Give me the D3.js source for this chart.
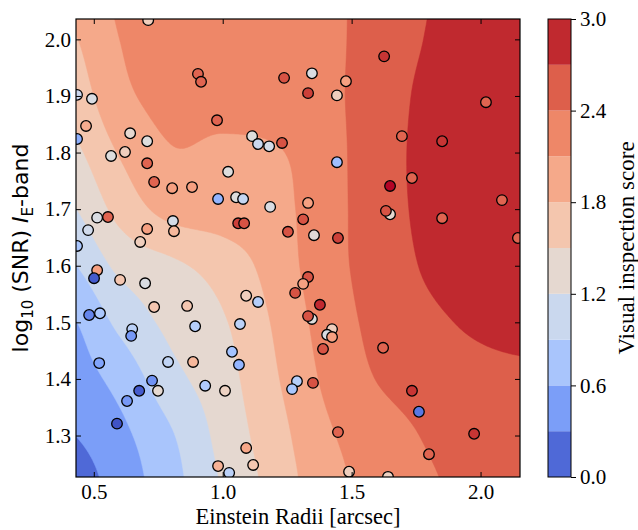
<!DOCTYPE html>
<html>
<head>
<meta charset="utf-8">
<script src="https://cdn.jsdelivr.net/npm/d3@7"></script>
<style>
  body { margin: 0; background: #fff; }
</style>
</head>
<body>
<div id="chart"></div>
<script>
// smoothed score surface on a coarse grid (rows go up in log SNR)
const gridX = [0.4, 0.6, 0.8, 1.0, 1.2, 1.4, 1.6, 1.8, 2.0, 2.2]
const gridY = [1.2, 1.3, 1.4, 1.5, 1.6, 1.7, 1.8, 1.9, 2.0, 2.1]
const scoreGrid = [
  [0.10, 0.42, 0.78, 1.22, 1.60, 1.98, 2.20, 2.36, 2.48, 2.52],
  [0.28, 0.52, 0.87, 1.30, 1.67, 2.05, 2.25, 2.43, 2.55, 2.60],
  [0.45, 0.70, 1.10, 1.38, 1.76, 2.15, 2.41, 2.55, 2.62, 2.65],
  [0.55, 0.97, 1.28, 1.47, 1.83, 2.22, 2.48, 2.64, 2.75, 2.80],
  [0.85, 1.27, 1.44, 1.63, 1.92, 2.28, 2.52, 2.74, 2.88, 2.93],
  [1.15, 1.60, 1.90, 1.95, 2.00, 2.28, 2.55, 2.78, 2.90, 2.95],
  [1.40, 1.82, 2.08, 2.04, 2.07, 2.28, 2.57, 2.78, 2.90, 2.95],
  [1.60, 2.02, 2.19, 2.22, 2.28, 2.33, 2.55, 2.77, 2.90, 2.95],
  [1.75, 2.10, 2.20, 2.25, 2.30, 2.33, 2.53, 2.72, 2.90, 2.95],
  [1.90, 2.15, 2.20, 2.25, 2.30, 2.33, 2.52, 2.69, 2.88, 2.93]
]

// individual lenses
const lensRadius = [0.711, 0.904, 0.916, 0.435, 0.493, 0.470, 0.978, 0.435, 0.641, 0.707,
  0.567, 0.621, 0.707, 1.114, 1.137, 1.180, 1.021, 1.238, 1.346, 1.331,
  1.230, 0.734, 0.804, 0.881, 0.982, 1.052, 1.079, 1.184, 1.060, 1.083,
  1.331, 1.312, 1.253, 1.354, 0.807, 0.811, 0.707, 0.680, 0.555, 0.513,
  0.478, 0.435, 0.513, 0.501, 0.602, 0.699, 0.482, 0.524, 0.649, 0.734,
  0.862, 0.893, 1.091, 1.137, 1.067, 0.645, 0.521, 0.788, 0.885, 1.036,
  1.063, 0.726, 0.676, 0.749, 0.629, 0.932, 1.009, 0.590, 1.091, 0.982,
  1.118, 1.025, 1.447, 2.145, 1.331, 1.312, 1.281, 1.377, 1.346, 1.331,
  1.424, 1.405, 1.424, 1.389, 1.622, 1.288, 1.269, 1.350, 1.734, 1.761,
  1.447, 1.975, 1.800, 1.490, 1.641, 1.478, 1.443, 1.626, 2.021, 1.695,
  1.851, 1.443, 1.734, 1.649, 2.083, 1.649, 1.633, 1.851]
const lensLogSnr = [2.034, 1.939, 1.925, 1.902, 1.895, 1.847, 1.857, 1.824, 1.834, 1.820,
  1.794, 1.801, 1.781, 1.829, 1.815, 1.811, 1.766, 1.932, 1.940, 1.905,
  1.817, 1.748, 1.737, 1.739, 1.718, 1.721, 1.718, 1.704, 1.675, 1.675,
  1.711, 1.682, 1.660, 1.654, 1.679, 1.661, 1.665, 1.642, 1.686, 1.685,
  1.663, 1.635, 1.592, 1.578, 1.575, 1.569, 1.513, 1.516, 1.488, 1.527,
  1.529, 1.493, 1.547, 1.536, 1.497, 1.476, 1.428, 1.430, 1.430, 1.448,
  1.425, 1.397, 1.379, 1.379, 1.361, 1.388, 1.379, 1.321, 1.278, 1.246,
  1.248, 1.234, 1.649, 1.649, 1.580, 1.568, 1.552, 1.531, 1.506, 1.511,
  1.488, 1.478, 1.474, 1.453, 1.455, 1.396, 1.382, 1.393, 1.379, 1.342,
  1.306, 1.303, 1.267, 1.236, 1.227, 1.926, 1.901, 1.970, 1.889, 1.829,
  1.820, 1.783, 1.755, 1.741, 1.716, 1.691, 1.697, 1.684]
const lensScore = [1.75, 2.6, 2.6, 1.3, 1.45, 2.1, 2.6, 0.75, 1.6, 1.5,
  1.5, 1.75, 2.6, 1.5, 1.3, 1.4, 1.5, 2.7, 1.45, 2.8,
  2.7, 2.6, 2.2, 2.2, 0.8, 1.5, 1.25, 1.45, 2.8, 2.7,
  2.2, 2.7, 2.7, 1.55, 1.4, 2.0, 2.2, 1.75, 2.6, 1.45,
  1.35, 1.0, 2.2, 0.1, 1.85, 1.45, 0.4, 1.0, 1.15, 1.85,
  1.85, 1.1, 1.75, 1.1, 1.15, 0.55, 0.65, 1.2, 2.0, 0.95,
  0.8, 0.5, 0.1, 1.6, 0.55, 1.05, 1.7, 0.05, 2.15, 2.05,
  1.85, 1.15, 2.8, 2.6, 2.7, 2.2, 2.7, 2.9, 1.5, 2.7,
  1.75, 1.45, 2.2, 2.7, 2.6, 1.1, 1.0, 2.7, 2.85, 0.3,
  2.6, 2.85, 2.6, 1.75, 1.7, 2.2, 1.75, 2.85, 2.6, 2.6,
  2.85, 0.9, 2.6, 3.0, 2.6, 1.6, 2.7, 2.6]

const levels = [0, 0.3, 0.6, 0.9, 1.2, 1.5, 1.8, 2.1, 2.4, 2.7, 3.0]
const xTicks = [0.5, 1.0, 1.5, 2.0]
const yTicks = [1.3, 1.4, 1.5, 1.6, 1.7, 1.8, 1.9, 2.0]
const cbarTicks = [0, 0.6, 1.2, 1.8, 2.4, 3.0]

// coolwarm colormap control points (for the markers)
const coolwarm = ['#3b4cc0', '#445acc', '#4d68d7', '#5775e1', '#6282ea', '#6c8ef1', '#779af7', '#82a5fb',
  '#8db0fe', '#98b9ff', '#a3c2ff', '#aec9fd', '#b8d0f9', '#c2d5f4', '#ccd9ee', '#d5dbe6', '#dddddd',
  '#e5d8d1', '#ecd3c5', '#f1ccb9', '#f5c4ad', '#f7bba0', '#f7b194', '#f7a687', '#f49a7b', '#f18d6f',
  '#ec7f63', '#e57058', '#de604d', '#d55042', '#cb3e38', '#c0282f', '#b40426']
// filled band colours, as they appear in the colour bar (low to high)
const bandFills = ['#4f69d7', '#7b9ef8', '#a9c5fc', '#cad8ee', '#e5d8d0', '#f4c6ae', '#f5a98a', '#ee8768', '#dd5f4b', '#c0292f']

const cmap = d3.scaleLinear()
  .domain(d3.range(coolwarm.length).map(i => i / (coolwarm.length - 1)))
  .range(coolwarm)
  .interpolate(d3.interpolateRgb)
const scoreColor = v => cmap(v / 3)
const bandColor = i => bandFills[i]

const width = 638
const height = 530
const margin = { top: 19, left: 76, bottom: 53, right: 118 }
const plotW = width - margin.left - margin.right
const plotH = height - margin.top - margin.bottom
const serif = '"Liberation Serif", "Times New Roman", serif'
const sans = '"DejaVu Sans", sans-serif'

const xScale = d3.scaleLinear().domain([0.431, 2.153]).range([0, plotW])
const yScale = d3.scaleLinear().domain([1.2267, 2.036]).range([plotH, 0])

// bicubic resampling of the read grid so the contours come out smooth
function cubic (p0, p1, p2, p3, t) {
  return p1 + 0.5 * t * (p2 - p0 + t * (2 * p0 - 5 * p1 + 4 * p2 - p3 + t * (3 * (p1 - p2) + p3 - p0)))
}
function field (x, y) {
  const u = (x - gridX[0]) / (gridX[1] - gridX[0])
  const v = (y - gridY[0]) / (gridY[1] - gridY[0])
  const i = Math.max(0, Math.min(gridX.length - 2, Math.floor(u)))
  const j = Math.max(0, Math.min(gridY.length - 2, Math.floor(v)))
  const at = (r, c) => scoreGrid[Math.max(0, Math.min(gridY.length - 1, r))][Math.max(0, Math.min(gridX.length - 1, c))]
  const rows = [-1, 0, 1, 2].map(d => cubic(at(j + d, i - 1), at(j + d, i), at(j + d, i + 1), at(j + d, i + 2), u - i))
  return cubic(rows[0], rows[1], rows[2], rows[3], v - j)
}

const nx = 320
const ny = 220
const x0 = gridX[0]
const x1 = gridX[gridX.length - 1]
const y0 = gridY[0]
const y1 = gridY[gridY.length - 1]
const dx = (x1 - x0) / (nx - 1)
const dy = (y1 - y0) / (ny - 1)
const values = new Float64Array(nx * ny)
for (let r = 0; r < ny; r++) {
  for (let c = 0; c < nx; c++) {
    values[r * nx + c] = field(x0 + c * dx, y1 - r * dy)
  }
}
const contours = d3.contours().size([nx, ny]).thresholds(levels.slice(1, -1))(values)
const gridPath = d3.geoPath(d3.geoTransform({
  point: function (c, r) {
    this.stream.point(xScale(x0 + (c - 0.5) * dx), yScale(y1 - (r - 0.5) * dy))
  }
}))

const svg = d3.select('#chart').append('svg')
  .attr('width', width)
  .attr('height', height)

svg.append('defs').append('clipPath').attr('id', 'plotclip')
  .append('rect').attr('width', plotW).attr('height', plotH)

const g = svg.append('g').attr('transform', `translate(${margin.left},${margin.top})`)
const inner = g.append('g').attr('clip-path', 'url(#plotclip)')

inner.append('rect')
  .attr('width', plotW)
  .attr('height', plotH)
  .attr('fill', bandColor(0))
inner.selectAll('path.band')
  .data(contours)
  .join('path')
  .attr('class', 'band')
  .attr('d', gridPath)
  .attr('fill', (d, i) => bandColor(i + 1))
  .attr('stroke', (d, i) => bandColor(i + 1))
  .attr('stroke-width', 0.5)

inner.selectAll('circle')
  .data(lensScore)
  .join('circle')
  .attr('cx', (d, i) => xScale(lensRadius[i]))
  .attr('cy', (d, i) => yScale(lensLogSnr[i]))
  .attr('r', 5.3)
  .attr('fill', d => scoreColor(d))
  .attr('stroke', '#000')
  .attr('stroke-width', 1.3)

const styleAxis = sel => {
  sel.select('.domain').remove()
  sel.selectAll('line').attr('stroke', '#000').attr('stroke-width', 1)
  sel.selectAll('text').attr('fill', '#000').style('font-family', serif).style('font-size', '21px')
}

g.append('g')
  .attr('transform', `translate(0,${plotH})`)
  .call(d3.axisBottom(xScale).tickValues(xTicks).tickFormat(d3.format('.1f')).tickSize(-5).tickPadding(7))
  .call(styleAxis)
g.append('g')
  .call(d3.axisTop(xScale).tickValues(xTicks).tickFormat('').tickSize(-5))
  .call(styleAxis)
g.append('g')
  .call(d3.axisLeft(yScale).tickValues(yTicks).tickFormat(d3.format('.1f')).tickSize(-5).tickPadding(5))
  .call(styleAxis)
g.append('g')
  .attr('transform', `translate(${plotW},0)`)
  .call(d3.axisRight(yScale).tickValues(yTicks).tickFormat('').tickSize(-5))
  .call(styleAxis)

g.append('rect')
  .attr('width', plotW)
  .attr('height', plotH)
  .attr('fill', 'none')
  .attr('stroke', '#000')
  .attr('stroke-width', 1.2)

g.append('text')
  .attr('x', plotW / 2)
  .attr('y', plotH + 47)
  .attr('text-anchor', 'middle')
  .style('font-family', serif)
  .style('font-size', '22.5px')
  .text('Einstein Radii [arcsec]')

const ylab = svg.append('text')
  .attr('transform', `translate(28,${margin.top + plotH / 2}) rotate(-90)`)
  .attr('text-anchor', 'middle')
  .style('font-family', sans)
  .style('font-size', '22px')
ylab.append('tspan').text('log')
ylab.append('tspan').attr('dy', 5).style('font-size', '15px').text('10')
ylab.append('tspan').attr('dy', -5).text(' (SNR) ')
ylab.append('tspan').style('font-style', 'italic').text('I')
ylab.append('tspan').attr('dy', 5).style('font-size', '15px').text('E')
ylab.append('tspan').attr('dy', -5).text('-band')

// colour bar
const cbX = 548
const cbW = 23
const cbScale = d3.scaleLinear().domain([0, 3]).range([margin.top + plotH, margin.top])
const cb = svg.append('g').attr('transform', `translate(${cbX},0)`)
cb.selectAll('rect.lvl')
  .data(levels.slice(0, -1))
  .join('rect')
  .attr('class', 'lvl')
  .attr('x', 0)
  .attr('width', cbW)
  .attr('y', (d, i) => cbScale(levels[i + 1]))
  .attr('height', (d, i) => cbScale(levels[i]) - cbScale(levels[i + 1]))
  .attr('fill', (d, i) => bandColor(i))
cb.append('rect')
  .attr('y', margin.top)
  .attr('width', cbW)
  .attr('height', plotH)
  .attr('fill', 'none')
  .attr('stroke', '#000')
  .attr('stroke-width', 1)
cb.append('g')
  .attr('transform', `translate(${cbW},0)`)
  .call(d3.axisRight(cbScale).tickValues(cbarTicks).tickFormat(d3.format('.1f')).tickSize(5).tickPadding(4))
  .call(styleAxis)

svg.append('text')
  .attr('transform', `translate(634,${margin.top + plotH / 2}) rotate(-90)`)
  .attr('text-anchor', 'middle')
  .style('font-family', serif)
  .style('font-size', '23px')
  .text('Visual inspection score')
</script>
</body>
</html>
